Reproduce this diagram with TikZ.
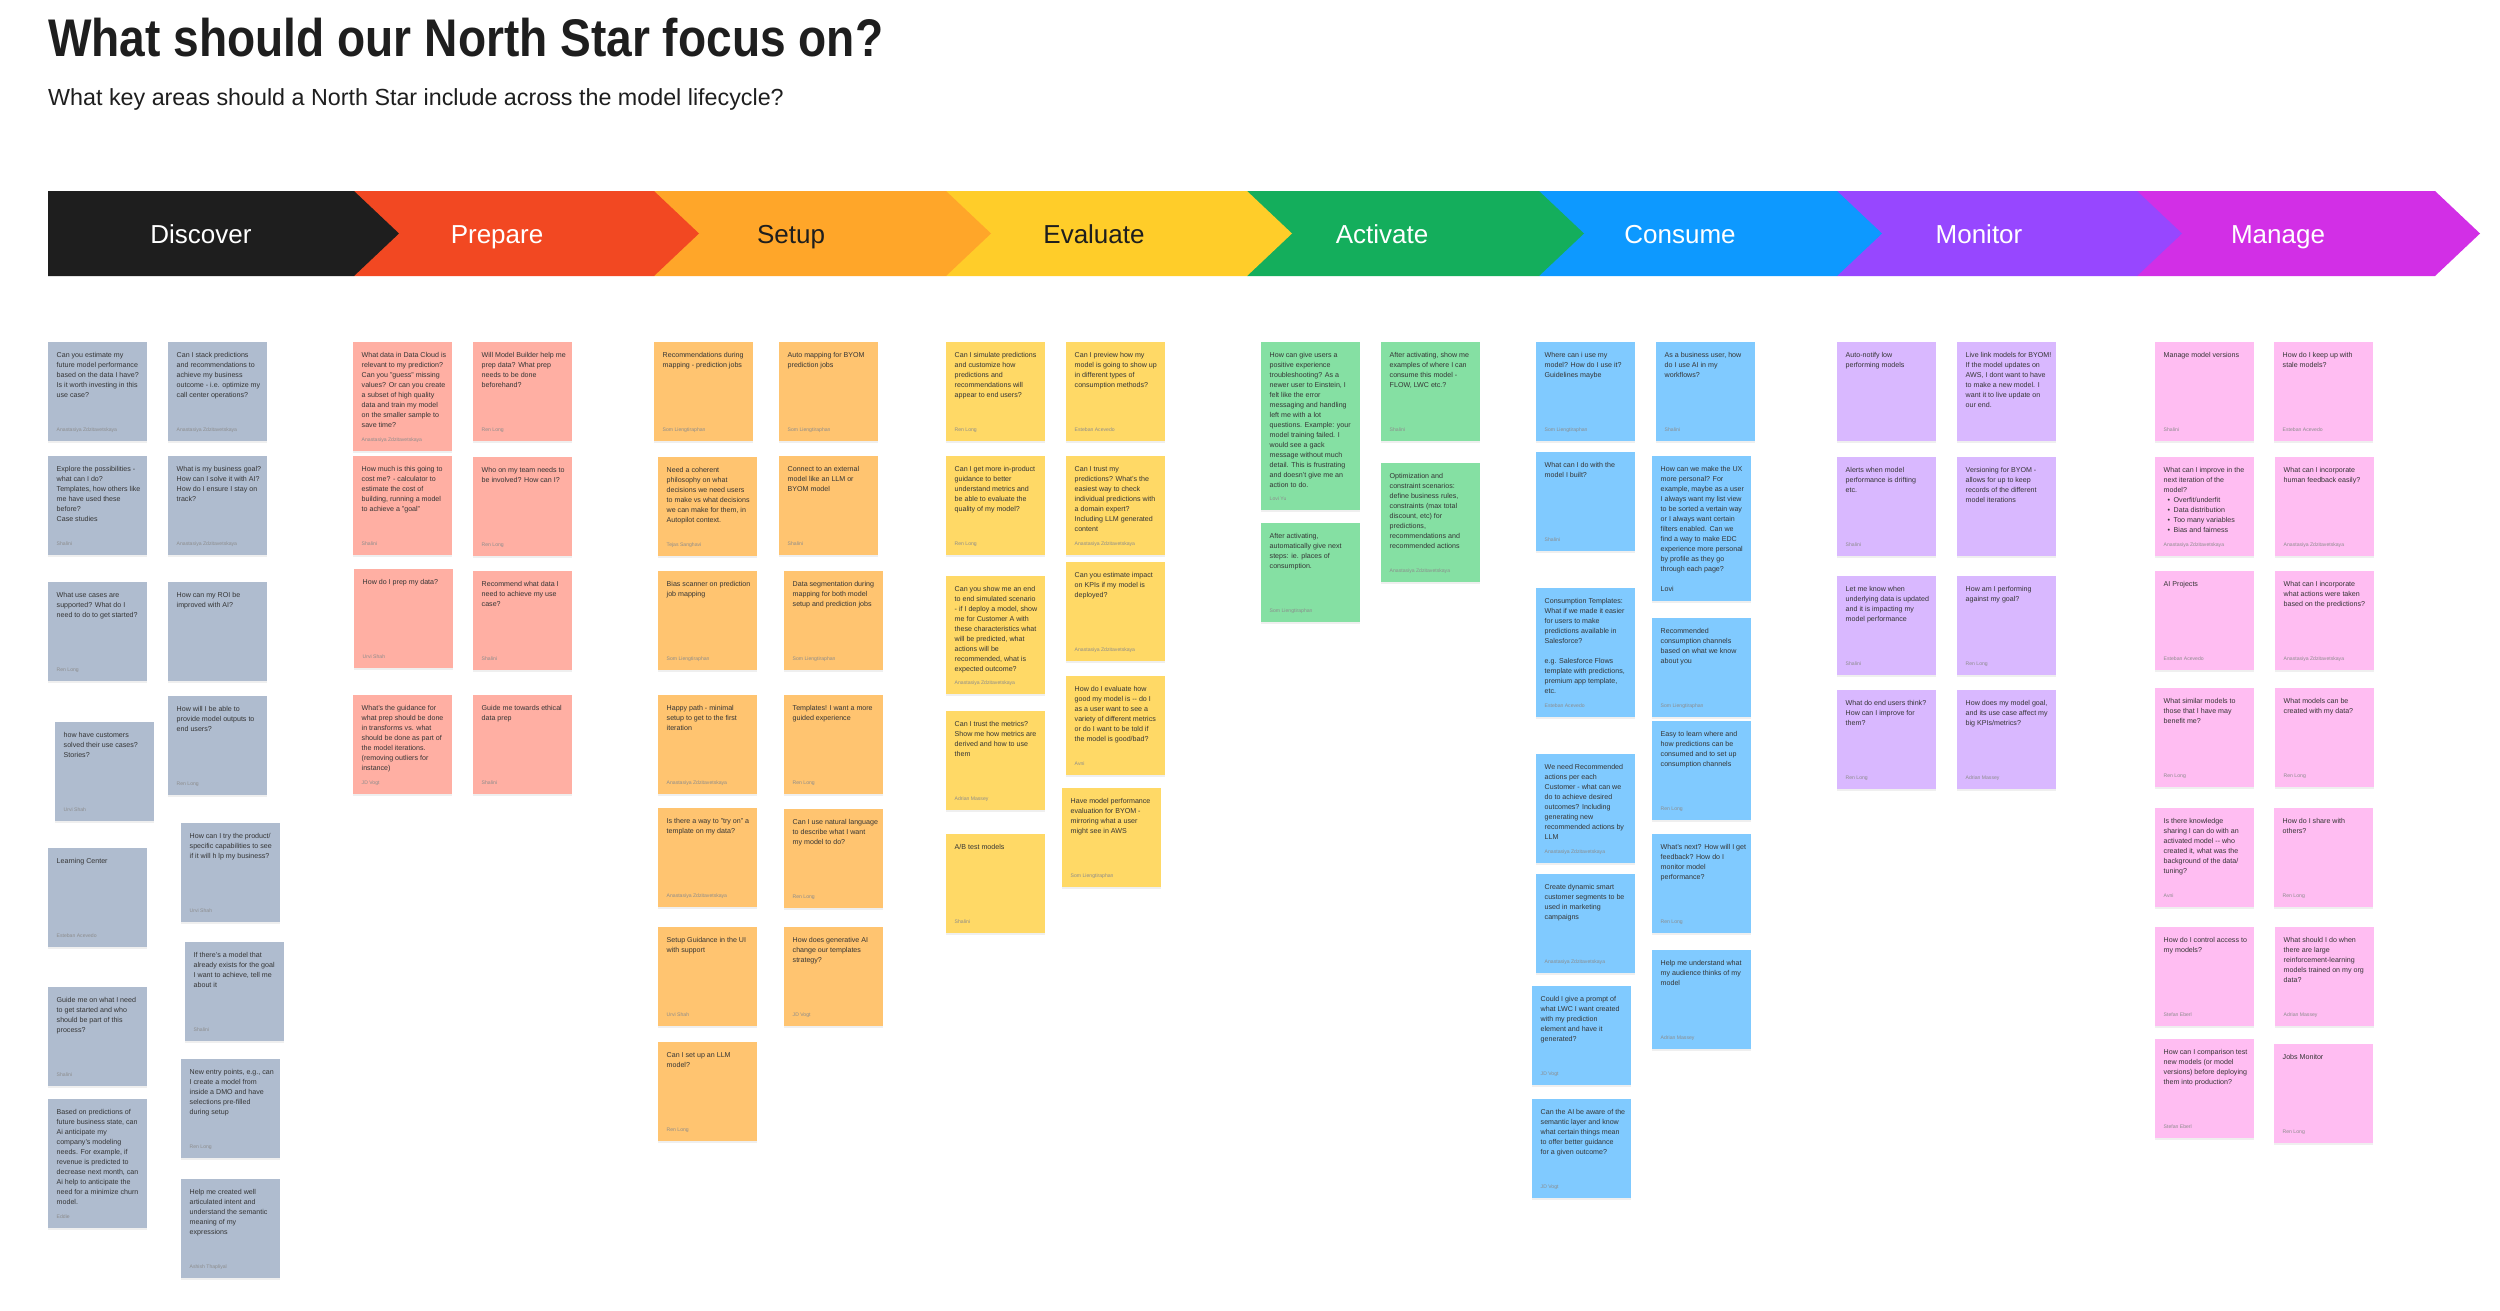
\documentclass[tikz,border=0pt]{standalone}
\usepackage{fontspec}
\setmainfont{Liberation Sans}
\usepackage{xcolor}
\usepackage{graphicx}
\usetikzlibrary{shadows}

\definecolor{ink}{HTML}{1E1E1E}
% phase colours
\definecolor{phDis}{HTML}{1E1E1E}
\definecolor{phPrp}{HTML}{F24822}
\definecolor{phStp}{HTML}{FFA629}
\definecolor{phEvl}{HTML}{FFCD29}
\definecolor{phAct}{HTML}{14AE5C}
\definecolor{phCns}{HTML}{0D99FF}
\definecolor{phMon}{HTML}{9747FF}
\definecolor{phMng}{HTML}{D22FE6}
% sticky colours
\definecolor{stDis}{HTML}{AFBCCF}
\definecolor{stPrp}{HTML}{FFAFA3}
\definecolor{stStp}{HTML}{FFC470}
\definecolor{stEvl}{HTML}{FFD966}
\definecolor{stAct}{HTML}{85E0A3}
\definecolor{stCns}{HTML}{80CAFF}
\definecolor{stMon}{HTML}{D9B8FF}
\definecolor{stMng}{HTML}{FFBDF2}

% \sticky[height]{name}{style}{x}{y}{text}{author}
\newcommand{\sticky}[7][99]{%
  \node[note, #3, minimum height=#1pt] (#2) at (#4,#5) {};
  \node[notetext] (#2-txt) at ([xshift=8.5pt, yshift=-10.3pt]#2.north west) {#6};
  \node[noteby] (#2-by) at ([xshift=8.5pt, yshift=10pt]#2.south west) {#7};
}

\begin{document}
\begin{tikzpicture}[
    x=1pt, y=-1pt,
    note/.style={rectangle, anchor=north west, inner sep=0pt, minimum width=99pt,
      drop shadow={opacity=0.12, shadow xshift=0pt, shadow yshift=-1.5pt}},
    notetext/.style={anchor=north west, inner sep=0pt, align=left, text=ink!90,
      font=\fontsize{7.1}{10}\selectfont},
    noteby/.style={anchor=base west, inner sep=0pt, text=black!45,
      font=\fontsize{5.1}{6}\selectfont},
    phase/.style={anchor=base, inner sep=0pt, font=\fontsize{26}{30}\selectfont, text=white},
    sDis/.style={fill=stDis}, sPrp/.style={fill=stPrp}, sStp/.style={fill=stStp},
    sEvl/.style={fill=stEvl}, sAct/.style={fill=stAct}, sCns/.style={fill=stCns},
    sMon/.style={fill=stMon}, sMng/.style={fill=stMng},
  ]
  \fill[white] (0,0) rectangle (2500,1310);
  \useasboundingbox (0,0) rectangle (2500,1310);

  % Title
  \node[anchor=base west, inner sep=0pt, text=ink] (title) at (48,56)
    {\scalebox{0.87}[1]{\fontsize{53}{60}\selectfont\bfseries What should our North Star focus on?}};
  \node[anchor=base west, inner sep=0pt, text=ink] (subtitle) at (48,105)
    {\fontsize{23.3}{28}\selectfont What key areas should a North Star include across the model lifecycle?};

  % Phase bar (right to left, so each tip lies over the next one)
  \foreach \xa/\xb/\col in {2137/2435/phMng, 1837/2137/phMon, 1539/1837/phCns,
      1247/1539/phAct, 946/1247/phEvl, 654/946/phStp, 354/654/phPrp, 48/354/phDis}
    \fill[\col] (\xa,191) -- (\xb,191) -- ({\xb+45},233.5) -- (\xb,276) -- (\xa,276) -- cycle;

  \node[phase] (ph-dis) at (201,243) {Discover};
  \node[phase] (ph-prp) at (497,243) {Prepare};
  \node[phase, text=ink] (ph-stp) at (791,243) {Setup};
  \node[phase, text=ink] (ph-evl) at (1094,243) {Evaluate};
  \node[phase] (ph-act) at (1382,243) {Activate};
  \node[phase] (ph-cns) at (1680,243) {Consume};
  \node[phase] (ph-mon) at (1979,243) {Monitor};
  \node[phase] (ph-mng) at (2278,243) {Manage};

  % Discover
  \sticky{d1}{sDis}{48}{342}{Can you estimate my\\future model performance\\based on the data I have?\\Is it worth investing in this\\use case?}{Anastasiya Zdzitavetskaya}
  \sticky{d2}{sDis}{168}{342}{Can I stack predictions\\and recommendations to\\achieve my business\\outcome - i.e. optimize my\\call center operations?}{Anastasiya Zdzitavetskaya}
  \sticky{d3}{sDis}{48}{456}{Explore the possibilities -\\what can I do?\\Templates, how others like\\me have used these\\before?\\Case studies}{Shalini}
  \sticky{d4}{sDis}{168}{456}{What is my business goal?\\How can I solve it with AI?\\How do I ensure I stay on\\track?}{Anastasiya Zdzitavetskaya}
  \sticky{d5}{sDis}{48}{582}{What use cases are\\supported? What do I\\need to do to get started?}{Ren Long}
  \sticky{d6}{sDis}{168}{582}{How can my ROI be\\improved with AI?}{}
  \sticky{d7}{sDis}{55}{722}{how have customers\\solved their use cases?\\Stories?}{Urvi Shah}
  \sticky{d8}{sDis}{168}{696}{How will I be able to\\provide model outputs to\\end users?}{Ren Long}
  \sticky{d9}{sDis}{181}{823}{How can I try the product/\\specific capabilities to see\\if it will h lp my business?}{Urvi Shah}
  \sticky{d10}{sDis}{48}{848}{Learning Center}{Esteban Acevedo}
  \sticky{d11}{sDis}{185}{942}{If there's a model that\\already exists for the goal\\I want to achieve, tell me\\about it}{Shalini}
  \sticky{d12}{sDis}{48}{987}{Guide me on what I need\\to get started and who\\should be part of this\\process?}{Shalini}
  \sticky[129]{d13}{sDis}{48}{1099}{Based on predictions of\\future business state, can\\Ai anticipate my\\company's modeling\\needs. For example, if\\revenue is predicted to\\decrease next month, can\\Ai help to anticipate the\\need for a minimize churn\\model.}{Eddie}
  \sticky{d14}{sDis}{181}{1059}{New entry points, e.g., can\\I create a model from\\inside a DMO and have\\selections pre-filled\\during setup}{Ren Long}
  \sticky{d15}{sDis}{181}{1179}{Help me created well\\articulated intent and\\understand the semantic\\meaning of my\\expressions}{Ashish Thapliyal}

  % Prepare
  \sticky[109]{p1}{sPrp}{353}{342}{What data in Data Cloud is\\relevant to my prediction?\\Can you "guess" missing\\values? Or can you create\\a subset of high quality\\data and train my model\\on the smaller sample to\\save time?}{Anastasiya Zdzitavetskaya}
  \sticky{p2}{sPrp}{473}{342}{Will Model Builder help me\\prep data? What prep\\needs to be done\\beforehand?}{Ren Long}
  \sticky{p3}{sPrp}{353}{456}{How much is this going to\\cost me? - calculator to\\estimate the cost of\\building, running a model\\to achieve a "goal"}{Shalini}
  \sticky{p4}{sPrp}{473}{457}{Who on my team needs to\\be involved? How can I?}{Ren Long}
  \sticky{p5}{sPrp}{354}{569}{How do I prep my data?}{Urvi Shah}
  \sticky{p6}{sPrp}{473}{571}{Recommend what data I\\need to achieve my use\\case?}{Shalini}
  \sticky{p7}{sPrp}{353}{695}{What's the guidance for\\what prep should be done\\in transforms vs. what\\should be done as part of\\the model iterations.\\(removing outliers for\\instance)}{JD Vogt}
  \sticky{p8}{sPrp}{473}{695}{Guide me towards ethical\\data prep}{Shalini}

  % Setup
  \sticky{s1}{sStp}{654}{342}{Recommendations during\\mapping - prediction jobs}{Som Liengtiraphan}
  \sticky{s2}{sStp}{779}{342}{Auto mapping for BYOM\\prediction jobs}{Som Liengtiraphan}
  \sticky{s3}{sStp}{658}{457}{Need a coherent\\philosophy on what\\decisions we need users\\to make vs what decisions\\we can make for them, in\\Autopilot context.}{Tejas Sanghavi}
  \sticky{s4}{sStp}{779}{456}{Connect to an external\\model like an LLM or\\BYOM model}{Shalini}
  \sticky{s5}{sStp}{658}{571}{Bias scanner on prediction\\job mapping}{Som Liengtiraphan}
  \sticky{s6}{sStp}{784}{571}{Data segmentation during\\mapping for both model\\setup and prediction jobs}{Som Liengtiraphan}
  \sticky{s7}{sStp}{658}{695}{Happy path - minimal\\setup to get to the first\\iteration}{Anastasiya Zdzitavetskaya}
  \sticky{s8}{sStp}{784}{695}{Templates! I want a more\\guided experience}{Ren Long}
  \sticky{s9}{sStp}{658}{808}{Is there a way to "try on" a\\template on my data?}{Anastasiya Zdzitavetskaya}
  \sticky{s10}{sStp}{784}{809}{Can I use natural language\\to describe what I want\\my model to do?}{Ren Long}
  \sticky{s11}{sStp}{658}{927}{Setup Guidance in the UI\\with support}{Urvi Shah}
  \sticky{s12}{sStp}{784}{927}{How does generative AI\\change our templates\\strategy?}{JD Vogt}
  \sticky{s13}{sStp}{658}{1042}{Can I set up an LLM\\model?}{Ren Long}

  % Evaluate
  \sticky{e1}{sEvl}{946}{342}{Can I simulate predictions\\and customize how\\predictions and\\recommendations will\\appear to end users?}{Ren Long}
  \sticky{e2}{sEvl}{1066}{342}{Can I preview how my\\model is going to show up\\in different types of\\consumption methods?}{Esteban Acevedo}
  \sticky{e3}{sEvl}{946}{456}{Can I get more in-product\\guidance to better\\understand metrics and\\be able to evaluate the\\quality of my model?}{Ren Long}
  \sticky{e4}{sEvl}{1066}{456}{Can I trust my\\predictions? What's the\\easiest way to check\\individual predictions with\\a domain expert?\\Including LLM generated\\content}{Anastasiya Zdzitavetskaya}
  \sticky[118]{e5}{sEvl}{946}{576}{Can you show me an end\\to end simulated scenario\\- if I deploy a model, show\\me for Customer A with\\these characteristics what\\will be predicted, what\\actions will be\\recommended, what is\\expected outcome?}{Anastasiya Zdzitavetskaya}
  \sticky{e6}{sEvl}{1066}{562}{Can you estimate impact\\on KPIs if my model is\\deployed?}{Anastasiya Zdzitavetskaya}
  \sticky{e7}{sEvl}{946}{711}{Can I trust the metrics?\\Show me how metrics are\\derived and how to use\\them}{Adrian Massey}
  \sticky{e8}{sEvl}{1066}{676}{How do I evaluate how\\good my model is {-}{-} do I\\as a user want to see a\\variety of different metrics\\or do I want to be told if\\the model is good/bad?}{Avni}
  \sticky{e9}{sEvl}{1062}{788}{Have model performance\\evaluation for BYOM -\\mirroring what a user\\might see in AWS}{Som Liengtiraphan}
  \sticky{e10}{sEvl}{946}{834}{A/B test models}{Shalini}

  % Activate
  \sticky[168]{a1}{sAct}{1261}{342}{How can give users a\\positive experience\\troubleshooting? As a\\newer user to Einstein, I\\felt like the error\\messaging and handling\\left me with a lot\\questions. Example: your\\model training failed. I\\would see a gack\\message without much\\detail. This is frustrating\\and doesn't give me an\\action to do.}{Lovi Yu}
  \sticky{a2}{sAct}{1381}{342}{After activating, show me\\examples of where I can\\consume this model -\\FLOW, LWC etc.?}{Shalini}
  \sticky{a3}{sAct}{1261}{523}{After activating,\\automatically give next\\steps: ie. places of\\consumption.}{Som Liengtiraphan}
  \sticky[119]{a4}{sAct}{1381}{463}{Optimization and\\constraint scenarios:\\define business rules,\\constraints (max total\\discount, etc) for\\predictions,\\recommendations and\\recommended actions}{Anastasiya Zdzitavetskaya}

  % Consume
  \sticky{c1}{sCns}{1536}{342}{Where can i use my\\model? How do I use it?\\Guidelines maybe}{Som Liengtiraphan}
  \sticky{c2}{sCns}{1656}{342}{As a business user, how\\do I use AI in my\\workflows?}{Shalini}
  \sticky{c3}{sCns}{1536}{452}{What can I do with the\\model I built?}{Shalini}
  \sticky[145]{c4}{sCns}{1652}{456}{How can we make the UX\\more personal? For\\example, maybe as a user\\I always want my list view\\to be sorted a vertain way\\or I always want certain\\filters enabled. Can we\\find a way to make EDC\\experience more personal\\by profile as they go\\through each page?\\[10pt]Lovi}{}
  \sticky[129]{c5}{sCns}{1536}{588}{Consumption Templates:\\What if we made it easier\\for users to make\\predictions available in\\Salesforce?\\[10pt]e.g. Salesforce Flows\\template with predictions,\\premium app template,\\etc.}{Esteban Acevedo}
  \sticky{c6}{sCns}{1652}{618}{Recommended\\consumption channels\\based on what we know\\about you}{Som Liengtiraphan}
  \sticky{c7}{sCns}{1652}{721}{Easy to learn where and\\how predictions can be\\consumed and to set up\\consumption channels}{Ren Long}
  \sticky[109]{c8}{sCns}{1536}{754}{We need Recommended\\actions per each\\Customer - what can we\\do to achieve desired\\outcomes? Including\\generating new\\recommended actions by\\LLM}{Anastasiya Zdzitavetskaya}
  \sticky{c9}{sCns}{1536}{874}{Create dynamic smart\\customer segments to be\\used in marketing\\campaigns}{Anastasiya Zdzitavetskaya}
  \sticky{c10}{sCns}{1652}{834}{What's next? How will I get\\feedback? How do I\\monitor model\\performance?}{Ren Long}
  \sticky{c11}{sCns}{1652}{950}{Help me understand what\\my audience thinks of my\\model}{Adrian Massey}
  \sticky{c12}{sCns}{1532}{986}{Could I give a prompt of\\what LWC I want created\\with my prediction\\element and have it\\generated?}{JD Vogt}
  \sticky{c13}{sCns}{1532}{1099}{Can the AI be aware of the\\semantic layer and know\\what certain things mean\\to offer better guidance\\for a given outcome?}{JD Vogt}

  % Monitor
  \sticky{m1}{sMon}{1837}{342}{Auto-notify low\\performing models}{}
  \sticky{m2}{sMon}{1957}{342}{Live link models for BYOM!\\If the model updates on\\AWS, I dont want to have\\to make a new model. I\\want it to live update on\\our end.}{}
  \sticky{m3}{sMon}{1837}{457}{Alerts when model\\performance is drifting\\etc.}{Shalini}
  \sticky{m4}{sMon}{1957}{457}{Versioning for BYOM -\\allows for up to keep\\records of the different\\model iterations}{}
  \sticky{m5}{sMon}{1837}{576}{Let me know when\\underlying data is updated\\and it is impacting my\\model performance}{Shalini}
  \sticky{m6}{sMon}{1957}{576}{How am I performing\\against my goal?}{Ren Long}
  \sticky{m7}{sMon}{1837}{690}{What do end users think?\\How can I improve for\\them?}{Ren Long}
  \sticky{m8}{sMon}{1957}{690}{How does my model goal,\\and its use case affect my\\big KPIs/metrics?}{Adrian Massey}

  % Manage
  \sticky{g1}{sMng}{2155}{342}{Manage model versions}{Shalini}
  \sticky{g2}{sMng}{2274}{342}{How do I keep up with\\stale models?}{Esteban Acevedo}
  \sticky{g3}{sMng}{2155}{457}{What can I improve in the\\next iteration of the\\model?\\\hspace*{4pt}•\hspace*{3.5pt}Overfit/underfit\\\hspace*{4pt}•\hspace*{3.5pt}Data distribution\\\hspace*{4pt}•\hspace*{3.5pt}Too many variables\\\hspace*{4pt}•\hspace*{3.5pt}Bias and fairness}{Anastasiya Zdzitavetskaya}
  \sticky{g4}{sMng}{2275}{457}{What can I incorporate\\human feedback easily?}{Anastasiya Zdzitavetskaya}
  \sticky{g5}{sMng}{2155}{571}{AI Projects}{Esteban Acevedo}
  \sticky{g6}{sMng}{2275}{571}{What can I incorporate\\what actions were taken\\based on the predictions?}{Anastasiya Zdzitavetskaya}
  \sticky{g7}{sMng}{2155}{688}{What similar models to\\those that I have may\\benefit me?}{Ren Long}
  \sticky{g8}{sMng}{2275}{688}{What models can be\\created with my data?}{Ren Long}
  \sticky{g9}{sMng}{2155}{808}{Is there knowledge\\sharing I can do with an\\activated model {-}{-} who\\created it, what was the\\background of the data/\\tuning?}{Avni}
  \sticky{g10}{sMng}{2274}{808}{How do I share with\\others?}{Ren Long}
  \sticky{g11}{sMng}{2155}{927}{How do I control access to\\my models?}{Stefan Eberl}
  \sticky{g12}{sMng}{2275}{927}{What should I do when\\there are large\\reinforcement-learning\\models trained on my org\\data?}{Adrian Massey}
  \sticky{g13}{sMng}{2155}{1039}{How can I comparison test\\new models (or model\\versions) before deploying\\them into production?}{Stefan Eberl}
  \sticky{g14}{sMng}{2274}{1044}{Jobs Monitor}{Ren Long}
\end{tikzpicture}
\end{document}
